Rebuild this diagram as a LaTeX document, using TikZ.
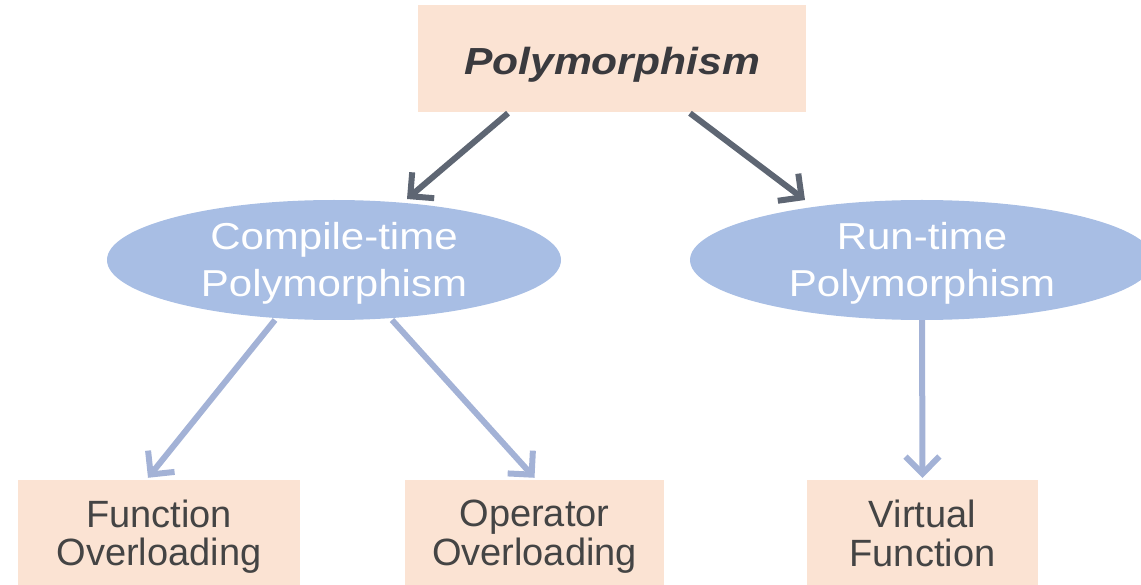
\documentclass[tikz,border=0pt]{standalone}
\usepackage{fontspec}
\setmainfont{Liberation Sans}
\newfontfamily\headfont[FakeStretch=1.13]{Liberation Sans}
\newfontfamily\ellfont[FakeStretch=1.12]{Liberation Sans}
\usetikzlibrary{shapes.geometric,arrows.meta,calc}

\definecolor{peach}{HTML}{FBE3D3}
\definecolor{ellblue}{HTML}{A8BEE4}
\definecolor{darkarrow}{HTML}{5E6673}
\definecolor{lightarrow}{HTML}{A3B2D6}
\definecolor{headtext}{HTML}{3A3A3E}
\definecolor{boxtext}{HTML}{444444}

\tikzset{
  peachbox/.style={rectangle, fill=peach, draw=none, inner sep=0pt},
  blueellipse/.style={ellipse, fill=ellblue, draw=none, inner sep=0pt},
  headlabel/.style={text=headtext, inner sep=0pt,
    font=\headfont\bfseries\itshape\fontsize{37.7}{40}\selectfont},
  elllabel/.style={text=white, inner sep=0pt, align=center,
    font=\ellfont\fontsize{37.5}{47}\selectfont},
  boxlabel/.style={text=boxtext, inner sep=0pt, align=center,
    font=\fontsize{38}{38.5}\selectfont},
  darklink/.style={draw=darkarrow, line width=6pt,
    -{Straight Barb[length=17pt,width=34pt]}},
  lightlink/.style={draw=lightarrow, line width=6pt,
    -{Straight Barb[length=17pt,width=34pt]}},
}

\begin{document}
\begin{tikzpicture}[x=1pt, y=-1pt]
  \useasboundingbox (0,0) rectangle (1141,585);

  % root
  \node[peachbox, minimum width=388pt, minimum height=107pt] (top) at (612,58.5) {};
  \node[headlabel, yshift=-6.5pt] (ttop) at (top.center) {Polymorphism};

  % the two kinds
  \node[blueellipse, minimum width=454pt, minimum height=120pt] (cl) at (334,260) {};
  \node[elllabel, yshift=-3.7pt] (tcl) at (cl.center) {Compile-time\\Polymorphism};
  \node[blueellipse, minimum width=464pt, minimum height=120pt] (cr) at (922,260) {};
  \node[elllabel, yshift=-3.7pt] (tcr) at (cr.center) {Run-time\\Polymorphism};

  % leaves
  \node[peachbox, minimum width=282pt, minimum height=110pt] (fo) at (159,535) {};
  \node[boxlabel, yshift=-1.5pt] (tfo) at (fo.center) {Function\\Overloading};
  \node[peachbox, minimum width=259pt, minimum height=110pt] (oo) at (534.5,535) {};
  \node[boxlabel, yshift=-1.5pt] (too) at (oo.center) {Operator\\Overloading};
  \node[peachbox, minimum width=231pt, minimum height=110pt] (vf) at (922.5,535) {};
  \node[boxlabel, yshift=1.5pt] (tvf) at (vf.center) {Virtual\\Function};

  % connectors
  \draw[darklink] ($(top.south)+(-104,1)$) -- ($(cl.center)+(73,-61)$);
  \draw[darklink] ($(top.south)+(78,1)$) -- ($(cr.center)+(-117,-60)$);
  \draw[lightlink] ($(cl.center)+(-59,60)$) -- ($(fo.north)+(-11,-2)$);
  \draw[lightlink] ($(cl.center)+(58,60)$) -- ($(oo.north)+(0,-2)$);
  \draw[lightlink] (cr.south) -- ($(vf.north)+(0,-2)$);
\end{tikzpicture}
\end{document}
